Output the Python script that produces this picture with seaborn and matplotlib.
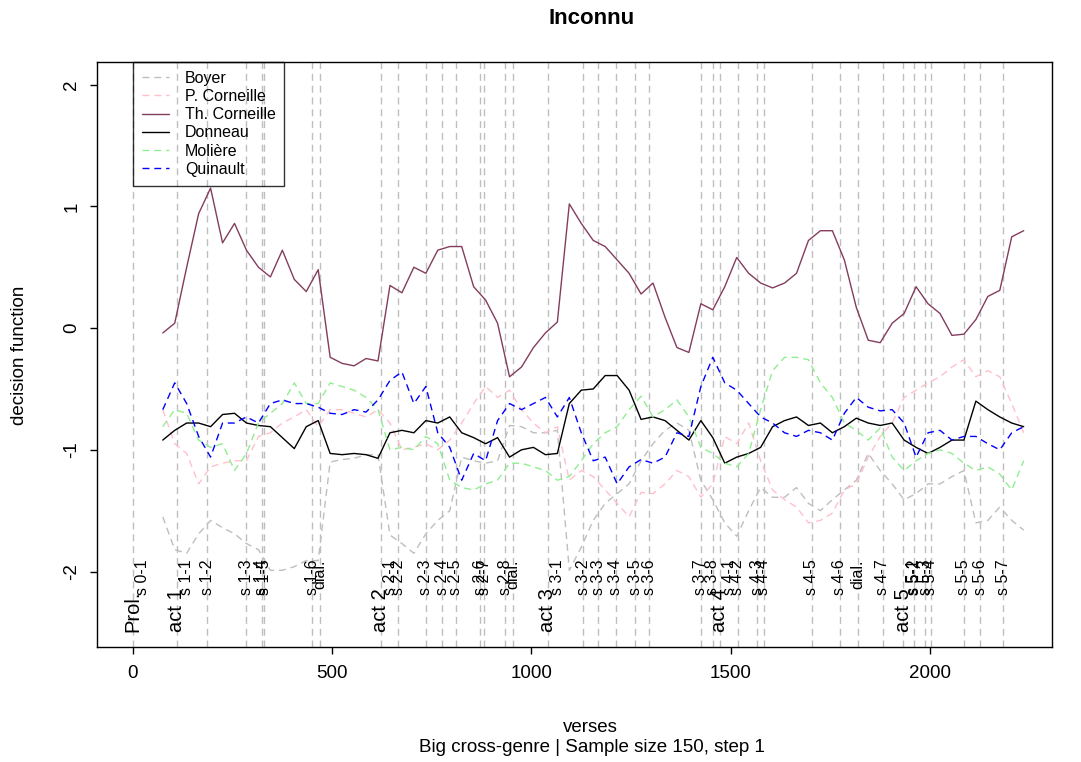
import matplotlib
matplotlib.use("Agg")
import matplotlib.pyplot as plt
from matplotlib.lines import Line2D
import seaborn as sns
import pandas as pd

# verse position of each rolling window (centre)
verses = [75, 105, 135, 165, 195, 225, 255, 285, 315, 345,
          375, 405, 435, 465, 495, 525, 555, 585, 615, 645,
          675, 705, 735, 765, 795, 825, 855, 885, 915, 945,
          975, 1005, 1035, 1065, 1095, 1125, 1155, 1185, 1215, 1245,
          1275, 1305, 1335, 1365, 1395, 1425, 1455, 1485, 1515, 1545,
          1575, 1605, 1635, 1665, 1695, 1725, 1755, 1785, 1815, 1845,
          1875, 1905, 1935, 1965, 1995, 2025, 2055, 2085, 2115, 2145,
          2175, 2205, 2235]

boyer = [-1.55, -1.82, -1.85, -1.69, -1.58, -1.64, -1.69, -1.77, -1.82, -1.99,
         -1.99, -1.96, -1.91, -1.91, -1.10, -1.08, -1.07, -1.04, -1.04, -1.70,
         -1.77, -1.85, -1.69, -1.58, -1.50, -1.06, -1.09, -1.11, -1.09, -0.80,
         -0.81, -0.86, -0.86, -0.84, -1.99, -1.80, -1.58, -1.44, -1.36, -1.28,
         -1.09, -0.95, -0.84, -0.78, -0.84, -1.25, -1.41, -1.60, -1.71, -1.50,
         -1.31, -1.39, -1.39, -1.31, -1.44, -1.50, -1.41, -1.33, -1.25, -1.03,
         -1.17, -1.28, -1.41, -1.36, -1.28, -1.28, -1.22, -1.17, -1.60, -1.58,
         -1.47, -1.58, -1.66]

p_corneille = [-0.67, -0.95, -1.03, -1.28, -1.14, -1.11, -1.09, -1.09, -0.89, -0.86,
               -0.78, -0.73, -0.67, -0.81, -0.67, -0.67, -0.70, -0.73, -0.67, -0.78,
               -1.00, -0.98, -0.95, -1.00, -0.92, -0.78, -0.62, -0.48, -0.57, -0.51,
               -0.67, -0.78, -0.86, -0.81, -1.25, -1.17, -1.22, -1.33, -1.44, -1.55,
               -1.35, -1.36, -1.28, -1.17, -1.22, -1.39, -1.28, -0.89, -0.95, -0.78,
               -1.09, -1.33, -1.41, -1.47, -1.60, -1.58, -1.52, -1.33, -1.28, -1.06,
               -0.89, -0.78, -0.57, -0.51, -0.45, -0.40, -0.32, -0.26, -0.40, -0.35,
               -0.40, -0.62, -0.86]

th_corneille = [-0.04, 0.04, 0.50, 0.94, 1.15, 0.70, 0.86, 0.64, 0.50, 0.42,
                0.64, 0.40, 0.30, 0.48, -0.24, -0.29, -0.31, -0.25, -0.27, 0.35,
                0.29, 0.50, 0.45, 0.64, 0.67, 0.67, 0.34, 0.23, 0.04, -0.40,
                -0.32, -0.16, -0.04, 0.05, 1.02, 0.86, 0.72, 0.67, 0.56, 0.45,
                0.28, 0.37, 0.09, -0.16, -0.20, 0.20, 0.15, 0.34, 0.58, 0.45,
                0.37, 0.33, 0.37, 0.45, 0.72, 0.80, 0.80, 0.56, 0.17, -0.10,
                -0.12, 0.04, 0.12, 0.34, 0.20, 0.12, -0.06, -0.05, 0.07, 0.26,
                0.31, 0.75, 0.80]

donneau = [-0.92, -0.84, -0.78, -0.78, -0.81, -0.71, -0.70, -0.78, -0.80, -0.81,
           -0.90, -0.99, -0.81, -0.76, -1.03, -1.04, -1.03, -1.04, -1.07, -0.86,
           -0.84, -0.86, -0.76, -0.78, -0.73, -0.86, -0.90, -0.95, -0.90, -1.06,
           -1.00, -0.98, -1.04, -1.03, -0.62, -0.51, -0.50, -0.39, -0.39, -0.51,
           -0.75, -0.73, -0.76, -0.84, -0.92, -0.76, -0.90, -1.11, -1.06, -1.03,
           -0.98, -0.81, -0.76, -0.73, -0.80, -0.78, -0.86, -0.81, -0.74, -0.78,
           -0.80, -0.78, -0.92, -0.98, -1.03, -0.98, -0.92, -0.92, -0.60, -0.67,
           -0.73, -0.78, -0.81]

moliere = [-0.81, -0.67, -0.70, -0.92, -0.98, -0.95, -1.17, -1.03, -0.78, -0.70,
           -0.62, -0.45, -0.62, -0.62, -0.45, -0.48, -0.51, -0.57, -0.67, -1.00,
           -0.98, -1.00, -0.89, -0.95, -1.25, -1.31, -1.33, -1.28, -1.25, -1.11,
           -1.11, -1.14, -1.17, -1.25, -1.22, -1.09, -0.95, -0.86, -0.81, -0.67,
           -0.56, -0.73, -0.67, -0.59, -0.73, -0.98, -1.03, -1.11, -1.14, -1.03,
           -0.67, -0.35, -0.24, -0.24, -0.26, -0.45, -0.57, -0.78, -0.84, -0.92,
           -0.82, -1.06, -1.17, -1.09, -1.03, -1.00, -1.03, -1.11, -1.17, -1.14,
           -1.20, -1.33, -1.09]

quinault = [-0.67, -0.45, -0.62, -0.89, -1.06, -0.78, -0.78, -0.73, -0.78, -0.62,
            -0.59, -0.62, -0.62, -0.65, -0.70, -0.71, -0.67, -0.69, -0.59, -0.43,
            -0.36, -0.62, -0.48, -0.86, -0.98, -1.25, -1.03, -1.09, -0.76, -0.62,
            -0.67, -0.62, -0.57, -0.73, -0.57, -0.86, -1.09, -1.06, -1.28, -1.14,
            -1.08, -1.11, -1.06, -0.86, -0.89, -0.48, -0.24, -0.45, -0.51, -0.62,
            -0.73, -0.78, -0.86, -0.89, -0.84, -0.86, -0.92, -0.70, -0.57, -0.65,
            -0.68, -0.67, -0.78, -1.06, -0.86, -0.84, -0.92, -0.89, -0.89, -0.95,
            -1.00, -0.86, -0.81]

authors = ["Boyer", "P. Corneille", "Th. Corneille", "Donneau", "Molière", "Quinault"]
colors = ["#bebebe", "#ffc0cb", "#843c5e", "black", "#90ee90", "blue"]
solid = ["Th. Corneille", "Donneau"]

# scene boundaries (verse) and their labels
scene_pos = [0, 110, 186, 285, 323, 329, 450, 469,
             622, 666, 735, 776, 810, 871, 881, 934, 953,
             1041, 1130, 1168, 1212, 1260, 1295, 1425, 1455,
             1473, 1517, 1567, 1583, 1703, 1774, 1820, 1881,
             1933, 1961, 1988, 2002, 2084, 2126, 2184]
scene_labels = ["s 0-1", "s 1-1", "s 1-2", "s 1-3", "s 1-4", "s 1-5", "s 1-6", "dial.",
                "s 2-1", "s 2-2", "s 2-3", "s 2-4", "s 2-5", "s 2-6", "s 2-7", "s 2-8", "dial.",
                "s 3-1", "s 3-2", "s 3-3", "s 3-4", "s 3-5", "s 3-6", "s 3-7", "s 3-8",
                "s 4-1", "s 4-2", "s 4-3", "s 4-4", "s 4-5", "s 4-6", "dial.", "s 4-7",
                "s 5-1", "s 5-2", "s 5-3", "s 5-4", "s 5-5", "s 5-6", "s 5-7"]
act_pos = [0, 110, 622, 1041, 1473, 1933]
act_labels = ["Prol.", "act 1", "act 2", "act 3", "act 4", "act 5"]

sns.set_theme(style="white", rc={"axes.edgecolor": "black", "text.color": "black",
                                 "xtick.color": "black", "ytick.color": "black",
                                 "axes.labelcolor": "black"})
plt.rcParams["font.family"] = ["Liberation Sans", "DejaVu Sans"]
plt.rcParams["axes.unicode_minus"] = False

fig = plt.figure(figsize=(10.81, 7.62), dpi=100)
ax = fig.add_axes([97 / 1081, 1 - 647 / 762, 955 / 1081, 585 / 762])

dash = (5, 3.5)
for x in scene_pos:
    ax.axvline(x, color="#bebebe", lw=1, ls=(0, dash), zorder=1)

df = pd.DataFrame({"verses": verses, "Boyer": boyer, "P. Corneille": p_corneille,
                   "Th. Corneille": th_corneille, "Donneau": donneau,
                   "Molière": moliere, "Quinault": quinault})
long = df.melt(id_vars="verses", var_name="author", value_name="score")

palette = dict(zip(authors, colors))
dashes = {a: ("" if a in solid else dash) for a in authors}
sns.lineplot(data=long, x="verses", y="score", hue="author", style="author",
             hue_order=authors, style_order=authors, palette=palette, dashes=dashes,
             linewidth=1.0, legend=False, ax=ax, zorder=2)

for x, lbl in zip(scene_pos, scene_labels):
    dx = 7 if x in act_pos else 0
    ax.annotate(lbl, xy=(x, -1.9), xytext=(dx, 0), textcoords="offset points",
                rotation=90, ha="center", va="top", fontsize=11.5)
for x, lbl in zip(act_pos, act_labels):
    ax.text(x, -2.5, lbl, rotation=90, ha="center", va="bottom", fontsize=14.5)

ax.set_xlim(-90, 2306)
ax.set_ylim(-2.62, 2.186)
ax.set_xticks([0, 500, 1000, 1500, 2000])
ax.set_yticks([-2, -1, 0, 1, 2])
ax.set_xlabel("")
ax.set_ylabel("")
ax.tick_params(bottom=True, left=True, direction="out", length=5, width=1,
               labelsize=13.5, color="black")
ax.tick_params(axis="x", pad=8)
ax.tick_params(axis="y", pad=7)
for lab in ax.get_yticklabels():
    lab.set_rotation(90)
    lab.set_va("center")
for sp in ax.spines.values():
    sp.set_visible(True)
    sp.set_color("black")
    sp.set_linewidth(1)

handles = [Line2D([], [], color=c, lw=1.0, ls="-" if a in solid else (0, dash))
           for a, c in zip(authors, colors)]
leg = ax.legend(handles, authors, loc="upper left", bbox_to_anchor=(0, 2.186),
                bbox_transform=ax.transData, borderaxespad=0, frameon=True,
                fancybox=False, edgecolor="black", facecolor="none", fontsize=11.5,
                handlelength=1.7, handletextpad=1.0, labelspacing=0.2, borderpad=0.55)
leg.get_frame().set_linewidth(1.0)

fig.text(592 / 1081, 1 - 18 / 762, "Inconnu", fontsize=16, fontweight="bold",
         ha="center", va="center")
fig.text(590 / 1081, 1 - 727 / 762, "verses", fontsize=13.5, ha="center", va="center")
fig.text(592 / 1081, 1 - 747 / 762, "Big cross-genre | Sample size 150, step 1",
         fontsize=13.5, ha="center", va="center")
fig.text(20 / 1081, 1 - 355 / 762, "decision function", fontsize=13.5, rotation=90,
         ha="center", va="center")

fig.savefig("out.png", dpi=100)
